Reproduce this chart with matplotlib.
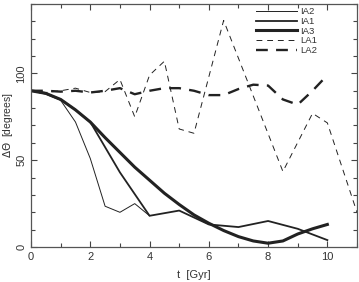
import numpy as np
import matplotlib.pyplot as plt
from matplotlib.ticker import MultipleLocator

plt.rcParams['font.family'] = ['Liberation Sans', 'DejaVu Sans']

# time grids (Gyr)
t_half = [0, 0.5, 1, 1.5, 2, 2.5, 3, 3.5, 4, 4.5, 5, 5.5, 6, 6.5, 7, 7.5, 8, 8.5, 9, 9.5, 10]

t_ia2 = [0, 0.5, 1, 1.5, 2, 2.5, 3, 3.5, 4]
ia2 = [90, 88, 84.5, 72, 51, 23.5, 20, 25, 18]

t_ia1 = [0, 0.5, 1, 1.5, 2, 3, 4, 5, 6, 7, 8, 9, 10]
ia1 = [90, 88.5, 85, 79, 72, 43, 18, 21, 13, 11.5, 15, 10.5, 4]

ia3 = [90, 88.5, 85, 79, 72, 63, 54.5, 46, 38.5, 31, 24.5, 18.5, 13.7, 9.5, 6,
       3.5, 2.2, 3.5, 7.5, 10.5, 13]

t_la1 = [0, 0.5, 1, 1.5, 2, 2.5, 3, 3.5, 4, 4.5, 5, 5.5, 6.5, 8.5, 9.5, 10, 11]
la1 = [90, 89, 90, 91.5, 89, 89.5, 96.5, 75, 99, 107, 68, 65.5, 130.5, 43.5,
       77, 71.5, 20]

la2 = [90, 90, 89.5, 90, 89, 90, 91.5, 88, 90, 91.5, 91.5, 90, 87.5, 87.5, 91,
       93.5, 93, 85, 82, 90, 99]

fig = plt.figure(figsize=(3.59, 2.82), dpi=100)
ax = fig.add_axes([0.0864, 0.124, 0.908, 0.862])

c = '#222222'
ax.plot(t_ia2, ia2, color=c, lw=0.7, label='IA2')
ax.plot(t_ia1, ia1, color=c, lw=1.3, label='IA1')
ax.plot(t_half, ia3, color=c, lw=2.2, label='IA3')
ax.plot(t_la1, la1, color=c, lw=0.7, dashes=(6, 5), label='LA1')
ax.plot(t_half, la2, color=c, lw=1.7, dashes=(5, 3.5), label='LA2')

ax.set_xlim(0, 11)
ax.set_ylim(0, 140)
ax.xaxis.set_major_locator(MultipleLocator(2))
ax.xaxis.set_minor_locator(MultipleLocator(1))
ax.yaxis.set_major_locator(MultipleLocator(50))
ax.yaxis.set_minor_locator(MultipleLocator(10))
ax.tick_params(which='both', direction='in', top=True, right=True,
               colors='#444444', labelsize=8, width=0.8)
ax.tick_params(which='major', length=4)
ax.tick_params(which='minor', length=3)
ax.tick_params(axis='x', labelcolor='#333333')
ax.tick_params(axis='y', labelcolor='#333333')
for lab in ax.get_yticklabels():
    lab.set_rotation(90)
    lab.set_va('center')
for s in ax.spines.values():
    s.set_color('#555555')
    s.set_linewidth(0.9)

ax.set_xlabel('t  [Gyr]', fontsize=8, color='#333333', labelpad=6)
ax.set_ylabel(r'$\Delta\Theta$  [degrees]', fontsize=7.5, color='#333333')
ax.yaxis.set_label_coords(-0.05, 0.5)

ax.legend(loc='upper right', bbox_to_anchor=(0.895, 1.01), frameon=False,
          fontsize=6.8, handlelength=4.4, handletextpad=0.3,
          labelspacing=0.08, borderpad=0.1, labelcolor='#333333')

fig.savefig('out.png', dpi=100)
